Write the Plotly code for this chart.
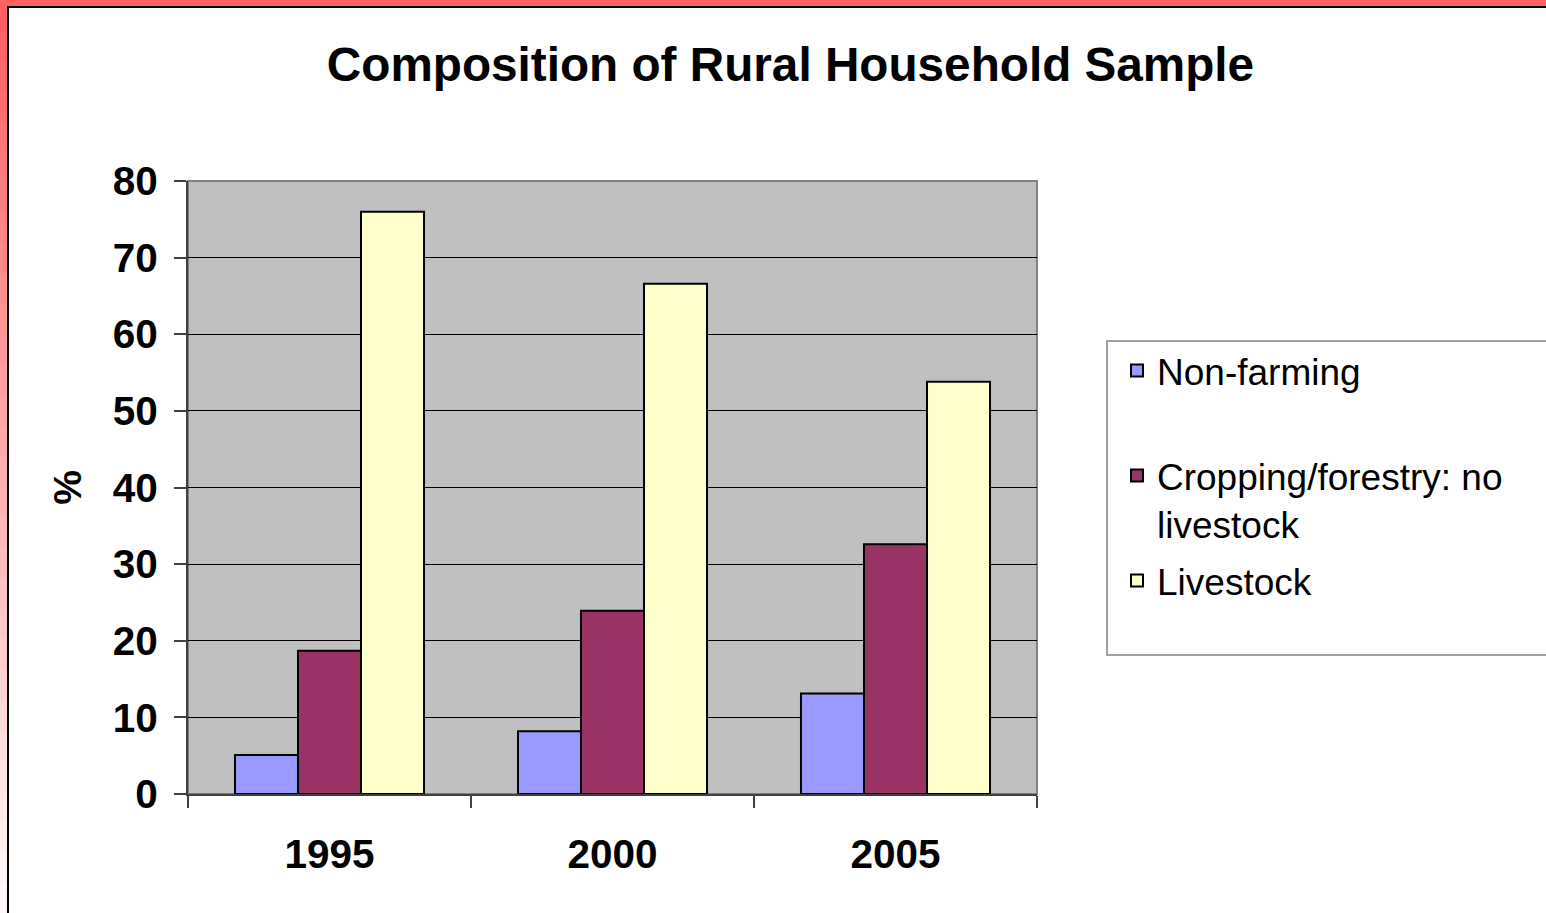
import plotly.graph_objects as go

years = ["1995", "2000", "2005"]
series_names = ["Non-farming", "Cropping/forestry: no<br>livestock", "Livestock"]
non_farming = [5.1, 8.2, 13.1]
cropping_no_livestock = [18.7, 23.9, 32.6]
livestock = [76.0, 66.6, 53.8]
series_values = [non_farming, cropping_no_livestock, livestock]
series_colors = ["#9999FF", "#993366", "#FFFFCC"]
y_ticks = [0, 10, 20, 30, 40, 50, 60, 70, 80]

W, H = 1546, 913
ML, MR, MT, MB = 188, W - 1037, 181, H - 794
PW, PH = W - ML - MR, H - MT - MB
FONT = "Liberation Sans, Arial, Helvetica, sans-serif"

def px_x(px):
    return (px - ML) / PW

def px_y(py):
    return (H - MB - py) / PH

legend_ids = ["legend", "legend2", "legend3"]
legend_tops = [340, 445, 550]  # pixel tops of each legend entry

fig = go.Figure()
for name, lid, vals, col in zip(series_names, legend_ids, series_values, series_colors):
    fig.add_trace(go.Bar(
        x=years, y=vals, name=name, legend=lid,
        marker=dict(color=col, line=dict(color="black", width=2)),
    ))

shapes = []
# left gradient band
n = 30
for i in range(n):
    t = i / (n - 1)
    g = int(0x60 + (0xF8 - 0x60) * t)
    shapes.append(dict(type="rect", xref="paper", yref="paper",
                       x0=px_x(0), x1=px_x(7), y0=px_y(H * i / n), y1=px_y(H * (i + 1) / n + 1),
                       fillcolor=f"rgb(255,{g},{g})", line=dict(width=0), layer="below"))
# top band
shapes.append(dict(type="rect", xref="paper", yref="paper",
                   x0=px_x(0), x1=px_x(W), y0=px_y(0), y1=px_y(6),
                   fillcolor="#FF6060", line=dict(width=0), layer="below"))
# black inner frame lines
shapes.append(dict(type="line", xref="paper", yref="paper",
                   x0=px_x(7), x1=px_x(W + 5), y0=px_y(7), y1=px_y(7),
                   line=dict(color="black", width=2)))
shapes.append(dict(type="line", xref="paper", yref="paper",
                   x0=px_x(8), x1=px_x(8), y0=px_y(6), y1=px_y(H + 5),
                   line=dict(color="black", width=2)))
# plot area border (top/right)
shapes.append(dict(type="rect", xref="paper", yref="paper",
                   x0=0, x1=1, y0=0, y1=1,
                   line=dict(color="#808080", width=2), layer="below"))
# legend frame
shapes.append(dict(type="rect", xref="paper", yref="paper",
                   x0=px_x(1107), x1=px_x(W + 20), y0=px_y(655), y1=px_y(341),
                   line=dict(color="#808080", width=1.5), fillcolor="white", layer="below"))

bold = dict(family=FONT, color="black", weight="bold")

legend_common = dict(xanchor="left", yanchor="top", bgcolor="rgba(0,0,0,0)", borderwidth=0,
                     font=dict(size=37, family=FONT, color="black"), valign="top")

fig.update_layout(
    width=W, height=H,
    margin=dict(l=ML, r=MR, t=MT, b=MB, autoexpand=False),
    paper_bgcolor="white", plot_bgcolor="#C0C0C0",
    font=dict(family=FONT, color="black"),
    title=dict(text="<b>Composition of Rural Household Sample</b>",
               x=790.5 / W, xanchor="center", y=1 - 64 / H, yanchor="middle",
               font=dict(size=47.7, family=FONT, color="black")),
    barmode="group", bargap=0.332, bargroupgap=0,
    showlegend=True,
    legend=dict(x=px_x(1117), y=px_y(legend_tops[0]), **legend_common),
    legend2=dict(x=px_x(1117), y=px_y(legend_tops[1]), **legend_common),
    legend3=dict(x=px_x(1117), y=px_y(legend_tops[2]), **legend_common),
    shapes=shapes,
    xaxis=dict(type="category", tickson="boundaries", ticks="outside", ticklen=12,
               tickcolor="#404040", tickwidth=2,
               showline=True, linecolor="#404040", linewidth=2,
               tickfont=dict(size=40.5, **bold), ticklabelstandoff=23,
               showgrid=False),
    yaxis=dict(range=[0, 80], tickvals=y_ticks, ticks="outside", ticklen=12,
               tickcolor="#404040", tickwidth=2,
               showline=True, linecolor="#404040", linewidth=2,
               gridcolor="black", gridwidth=1, zeroline=False,
               tickfont=dict(size=40.5, **bold), ticklabelstandoff=8,
               title=dict(text="%", standoff=19, font=dict(size=39, **bold))),
)

fig.write_html("out.html", config={"displayModeBar": False},
               post_script="document.body.style.margin='0';document.body.style.overflow='hidden';")
